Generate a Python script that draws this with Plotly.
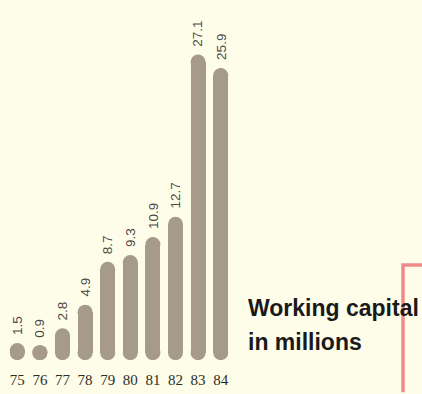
import plotly.graph_objects as go

# Working capital, in millions of dollars, by fiscal year
years = ["75", "76", "77", "78", "79", "80", "81", "82", "83", "84"]
capital = [1.5, 0.9, 2.8, 4.9, 8.7, 9.3, 10.9, 12.7, 27.1, 25.9]
value_labels = ["1.5", "0.9", "2.8", "4.9", "8.7", "9.3", "10.9", "12.7", "27.1", "25.9"]

W, H = 422, 394
M_L, M_R, M_T, M_B = 6, 190, 22, 27
PLOT_W = W - M_L - M_R
PLOT_H = H - M_T - M_B
Y_MAX = 30.0
BAR_PX = 15  # thickness of each rounded bar

px_per_unit_y = PLOT_H / Y_MAX
px_per_cat = PLOT_W / len(years)
r_data = (BAR_PX / 2) / px_per_unit_y  # cap radius in data units
bar_w = BAR_PX / px_per_cat

BG = "#fdfde9"
BAR = "#a69a8b"

idx = list(range(len(years)))

# each bar is a pill: a straight middle section plus round end caps
tops = [max(v - r_data, r_data) for v in capital]
mid_len = [t - r_data for t in tops]

fig = go.Figure()
fig.add_trace(go.Bar(
    x=idx, y=mid_len, base=[r_data] * len(years), width=bar_w,
    marker=dict(color=BAR, line=dict(width=0)), hoverinfo="skip",
))
fig.add_trace(go.Scatter(
    x=idx + idx, y=[r_data] * len(years) + tops, mode="markers",
    marker=dict(color=BAR, size=BAR_PX, line=dict(width=0)), hoverinfo="skip",
))

for i, v, lab in zip(idx, capital, value_labels):
    fig.add_annotation(
        x=i, y=max(v, 2 * r_data), text=lab, textangle=-90, showarrow=False,
        xanchor="center", yanchor="bottom", yshift=6,
        font=dict(family="Liberation Sans, Arial, sans-serif", size=13.5, color="#4d4a46"),
    )


def px_x(X):
    return (X - M_L) / PLOT_W


def px_y(Y):
    return (H - M_B - Y) / PLOT_H


title_font = dict(family="Liberation Sans, Arial, sans-serif", size=23, color="#1a1a1a")
fig.add_annotation(xref="paper", yref="paper", x=px_x(246), y=px_y(329),
                   text="<b>Working capital</b>", showarrow=False,
                   xanchor="left", yanchor="bottom", font=title_font)
fig.add_annotation(xref="paper", yref="paper", x=px_x(246), y=px_y(364),
                   text="<b>in millions</b>", showarrow=False,
                   xanchor="left", yanchor="bottom", font=title_font)

# red bracket at the right edge
fig.add_shape(type="path", xref="paper", yref="paper",
              path=f"M {px_x(403)},{px_y(400)} L {px_x(403)},{px_y(270)} L {px_x(425)},{px_y(270)}",
              line=dict(color="#f08a8a", width=3.5))

fig.update_layout(
    width=W, height=H,
    margin=dict(l=M_L, r=M_R, t=M_T, b=M_B, pad=0),
    paper_bgcolor=BG, plot_bgcolor=BG,
    showlegend=False, bargap=0,
    xaxis=dict(range=[-0.5, len(years) - 0.5], showgrid=False,
               tickmode="array", tickvals=idx, ticktext=years,
               zeroline=False, showline=False, ticks="outside", ticklen=6,
               tickcolor=BG, fixedrange=True,
               tickfont=dict(family="Liberation Serif, Times New Roman, serif",
                             size=15, color="#2e2c2a")),
    yaxis=dict(range=[0, Y_MAX], visible=False, fixedrange=True),
)

fig.write_html("out.html")
